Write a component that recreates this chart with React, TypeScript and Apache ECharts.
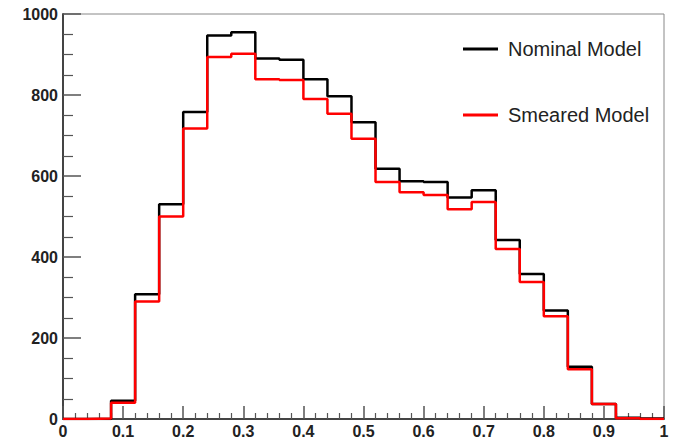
import React, { useEffect, useRef } from "react";
import * as echarts from "echarts";

const binEdges = [0, 0.04, 0.08, 0.12, 0.16, 0.2, 0.24, 0.28, 0.32, 0.36, 0.4, 0.44, 0.48, 0.52, 0.56, 0.6, 0.64, 0.68, 0.72, 0.76, 0.8, 0.84, 0.88, 0.92, 0.96, 1.0];
const nominal = [0, 0, 45, 308, 530, 758, 947, 955, 890, 887, 839, 797, 733, 618, 587, 585, 547, 565, 442, 358, 268, 129, 37, 3, 1];
const smeared = [0, 1, 40, 290, 500, 717, 894, 902, 839, 837, 790, 754, 692, 585, 560, 553, 518, 536, 420, 338, 254, 123, 37, 2, 0];
const seriesNames = ["Nominal Model", "Smeared Model"];

const FONT = '"Liberation Sans", Arial, Helvetica, sans-serif';

function histPoints(vals: number[]) {
  const pts: number[][] = vals.map((v, i) => [binEdges[i], v]);
  pts.push([binEdges[vals.length], vals[vals.length - 1]]);
  return pts;
}

export default function App() {
  const ref = useRef<HTMLDivElement>(null);
  useEffect(() => {
    if (!ref.current) return;
    const chart = echarts.init(ref.current, undefined, { renderer: "svg" });
    const axisCommon = {
      axisLine: { show: true, lineStyle: { color: "#444", width: 2 } },
      splitLine: { show: false },
    };
    chart.setOption({
      animation: false,
      backgroundColor: "#fff",
      grid: {
        left: 63,
        right: 11,
        top: 14,
        bottom: 18,
        show: true,
        borderColor: "#888",
        borderWidth: 1,
        containLabel: false,
      },
      legend: {
        orient: "vertical",
        left: 458,
        top: 34,
        icon: "rect",
        itemWidth: 35,
        itemHeight: 3,
        itemGap: 46,
        data: seriesNames,
        textStyle: {
          fontFamily: FONT,
          fontSize: 20,
          lineHeight: 20,
          color: "#222",
          padding: [0, 0, 0, 5],
        },
      },
      xAxis: {
        type: "value",
        min: 0,
        max: 1,
        interval: 0.1,
        ...axisCommon,
        axisTick: { show: true, inside: true, length: 13, lineStyle: { color: "#555", width: 1.5 } },
        minorTick: { show: true, splitNumber: 5, length: 6, lineStyle: { color: "#555", width: 1.2 } },
        axisLabel: {
          margin: 4,
          fontFamily: FONT,
          fontSize: 16,
          fontWeight: "bold",
          color: "#222",
          showMinLabel: true,
          showMaxLabel: true,
          formatter: (v: number) => String(Math.round(v * 10) / 10),
        },
      },
      yAxis: {
        type: "value",
        min: 0,
        max: 1000,
        interval: 200,
        ...axisCommon,
        axisTick: { show: true, inside: true, length: 18, lineStyle: { color: "#555", width: 1.5 } },
        minorTick: { show: true, splitNumber: 4, length: 10, lineStyle: { color: "#555", width: 1.2 } },
        axisLabel: {
          margin: 5,
          fontFamily: FONT,
          fontSize: 16,
          fontWeight: "bold",
          color: "#222",
          formatter: (v: number) => String(v),
        },
      },
      series: [
        {
          name: seriesNames[0],
          type: "line",
          step: "end",
          symbol: "none",
          data: histPoints(nominal),
          itemStyle: { color: "#000" },
          lineStyle: { color: "#000", width: 2.5 },
        },
        {
          name: seriesNames[1],
          type: "line",
          step: "end",
          symbol: "none",
          data: histPoints(smeared),
          itemStyle: { color: "#ff0000" },
          lineStyle: { color: "#ff0000", width: 2.5 },
        },
      ],
    });
    return () => chart.dispose();
  }, []);
  return (
    <div
      ref={ref}
      style={{ position: "fixed", left: 0, top: 0, width: 675, height: 439, background: "#fff" }}
    />
  );
}
